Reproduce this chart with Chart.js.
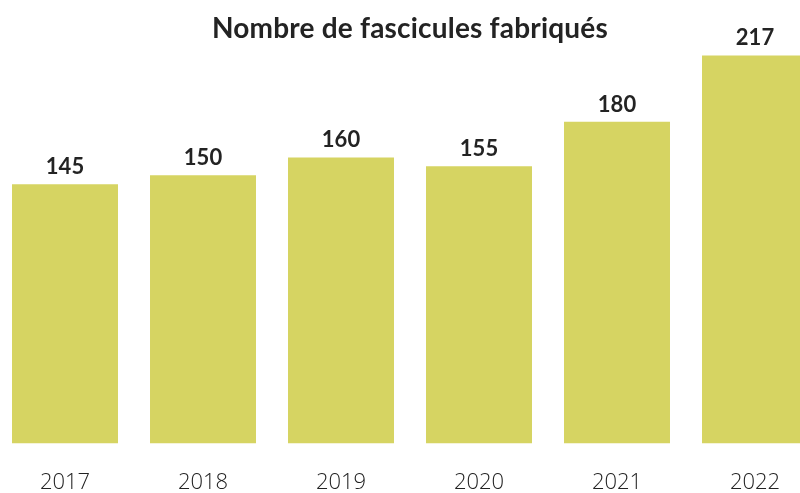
<!DOCTYPE html>
<html>
<head>
<meta charset="utf-8">
<script src="https://cdn.jsdelivr.net/npm/chart.js@4"></script>
<style>
    html, body { margin: 0; padding: 0; background: #fff; overflow: hidden; }
    body { width: 800px; height: 493px; position: relative; }
    #titre {
        position: absolute; left: 0; top: 10px; width: 820px; text-align: center;
        font-family: Lato, sans-serif; font-weight: 700; font-size: 28px; color: #232323;
        letter-spacing: 0.2px; z-index: 2;
    }
    /* kanvas pencereden biraz taşıyor, alt boşluk görünmesin diye */
    #kutu { position: absolute; left: -4px; top: 0; width: 828px; height: 522px; }
</style>
</head>
<body>
<div id="titre">Nombre de fascicules fabriqués</div>
<div id="kutu"><canvas id="fasciculesChart"></canvas></div>
<script>
// Veriler
const yillar = ['2017', '2018', '2019', '2020', '2021', '2022'];
const fascicules = [145, 150, 160, 155, 180, 217];

// Barların üstüne değer yaz
const degerEtiketleri = {
    id: 'degerEtiketleri',
    afterDatasetsDraw(chart) {
        const ctx = chart.ctx;
        const meta = chart.getDatasetMeta(0);
        ctx.save();
        ctx.font = '700 22px Lato, sans-serif';
        ctx.fillStyle = '#232323';
        ctx.textAlign = 'center';
        ctx.textBaseline = 'alphabetic';
        meta.data.forEach((bar, i) => {
            ctx.fillText(fascicules[i], bar.x, bar.y - 10);
        });
        ctx.restore();
    }
};

const ctx = document.getElementById('fasciculesChart').getContext('2d');
new Chart(ctx, {
    type: 'bar',
    data: {
        labels: yillar,
        datasets: [{
            data: fascicules,
            backgroundColor: '#d6d462',
            borderWidth: 0,
            barPercentage: 0.768,
            categoryPercentage: 1
        }]
    },
    options: {
        responsive: true,
        maintainAspectRatio: false,
        animation: false,
        layout: { padding: 0 },
        plugins: {
            legend: { display: false },
            tooltip: { enabled: false }
        },
        scales: {
            x: {
                grid: { display: false, drawTicks: false, tickLength: 0 },
                border: { display: false },
                ticks: {
                    color: '#222',
                    padding: 26,
                    font: { family: "'Open Sans', sans-serif", size: 22, weight: 300 }
                }
            },
            y: {
                display: false,
                min: 0,
                max: 248
            }
        }
    },
    plugins: [degerEtiketleri]
});
</script>
</body>
</html>
